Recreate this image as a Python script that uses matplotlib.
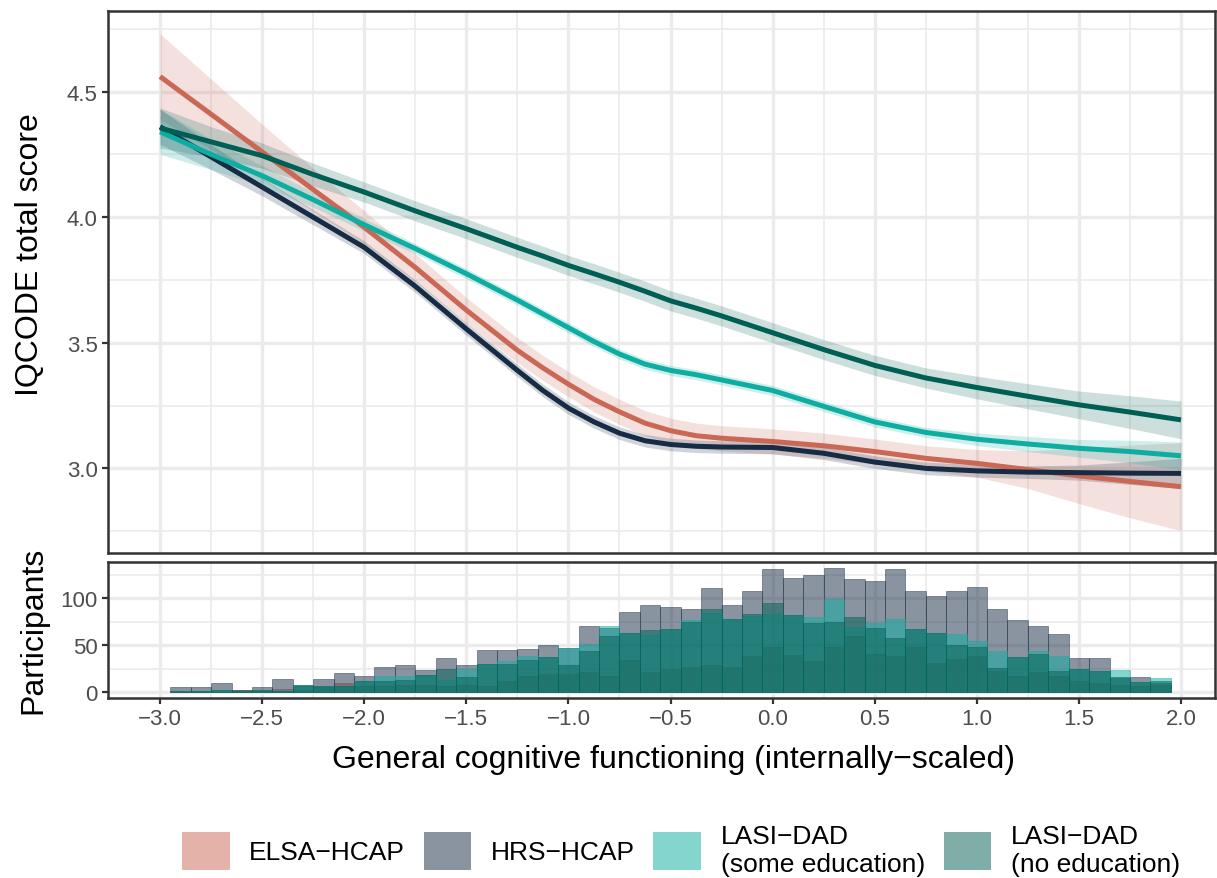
import numpy as np
import matplotlib
matplotlib.use("Agg")
import matplotlib.pyplot as plt
from matplotlib.patches import Patch

plt.rcParams["font.family"] = ["Liberation Sans", "DejaVu Sans"]

# ---- smooth curves ----
gcf_x = [-3.0, -2.75, -2.5, -2.25, -2.0, -1.75, -1.5, -1.25, -1.125, -1.0, -0.875, -0.75,
         -0.625, -0.5, -0.375, -0.25, 0.0, 0.25, 0.5, 0.75, 1.0, 1.25, 1.5, 1.75, 2.0]

elsa_fit = [4.56, 4.41, 4.26, 4.11, 3.96, 3.80, 3.63, 3.47, 3.40, 3.335, 3.275, 3.225,
            3.18, 3.15, 3.13, 3.12, 3.107, 3.09, 3.067, 3.04, 3.02, 2.995, 2.97, 2.948, 2.927]
elsa_se = [0.17, 0.14, 0.11, 0.085, 0.065, 0.055, 0.05, 0.05, 0.05, 0.05, 0.05, 0.05,
           0.05, 0.05, 0.05, 0.05, 0.05, 0.05, 0.05, 0.05, 0.055, 0.075, 0.11, 0.145, 0.175]

hrs_fit = [4.36, 4.24, 4.12, 4.00, 3.88, 3.725, 3.555, 3.39, 3.31, 3.24, 3.185, 3.14,
           3.11, 3.095, 3.088, 3.085, 3.083, 3.06, 3.025, 3.0, 2.99, 2.985, 2.983, 2.981, 2.98]
hrs_se = [0.07, 0.05, 0.035, 0.03, 0.025, 0.025, 0.025, 0.025, 0.025, 0.025, 0.025, 0.025,
          0.025, 0.025, 0.025, 0.025, 0.025, 0.025, 0.025, 0.025, 0.025, 0.025, 0.03, 0.045, 0.06]

some_fit = [4.34, 4.25, 4.165, 4.07, 3.97, 3.875, 3.775, 3.67, 3.615, 3.56, 3.505, 3.455,
            3.415, 3.39, 3.373, 3.352, 3.31, 3.247, 3.185, 3.143, 3.116, 3.097, 3.08, 3.067, 3.05]
some_se = [0.09, 0.06, 0.04, 0.03, 0.025, 0.02, 0.02, 0.02, 0.02, 0.02, 0.02, 0.02,
           0.02, 0.02, 0.02, 0.02, 0.02, 0.02, 0.02, 0.02, 0.025, 0.03, 0.035, 0.045, 0.055]

noed_fit = [4.355, 4.30, 4.245, 4.17, 4.10, 4.025, 3.954, 3.88, 3.845, 3.808, 3.775, 3.741,
            3.705, 3.667, 3.638, 3.607, 3.54, 3.473, 3.41, 3.36, 3.322, 3.287, 3.253, 3.224, 3.193]
noed_se = [0.08, 0.06, 0.05, 0.045, 0.04, 0.04, 0.04, 0.04, 0.04, 0.04, 0.04, 0.04,
           0.04, 0.04, 0.04, 0.04, 0.04, 0.04, 0.04, 0.04, 0.045, 0.05, 0.055, 0.065, 0.075]

# ---- histogram counts, bins of 0.1 centred at -2.9 ... 1.9 ----
bin_mid = [round(-2.9 + 0.1 * i, 1) for i in range(49)]

elsa_n = [0, 0, 0, 2, 1, 3, 2, 5, 10, 6, 6, 8, 8, 6, 7, 6, 12, 17, 19, 19, 21, 17, 34, 21, 25,
          27, 29, 27, 38, 48, 40, 33, 48, 60, 41, 38, 48, 31, 35, 39, 22, 17, 21, 17, 12, 10, 8, 6, 7]
hrs_n = [5, 5, 10, 2, 5, 14, 6, 14, 20, 17, 27, 29, 23, 36, 29, 45, 45, 46, 50, 47, 71, 68, 85, 93, 91,
         89, 111, 93, 108, 131, 122, 125, 133, 121, 119, 131, 108, 103, 108, 112, 89, 77, 71, 62, 36, 36, 15, 16, 10]
some_n = [1, 1, 2, 1, 2, 1, 8, 6, 6, 12, 17, 17, 18, 13, 25, 30, 33, 38, 37, 47, 51, 71, 63, 61, 67,
          77, 84, 78, 81, 83, 82, 80, 99, 69, 74, 78, 67, 63, 62, 55, 44, 37, 44, 38, 25, 22, 24, 11, 15]
noed_n = [1, 1, 2, 1, 2, 1, 8, 6, 6, 12, 12, 13, 18, 25, 16, 30, 30, 34, 37, 29, 44, 60, 63, 66, 67,
          75, 89, 78, 83, 95, 82, 74, 75, 80, 68, 58, 67, 63, 50, 48, 26, 37, 41, 22, 25, 22, 16, 11, 12]

groups = ["ELSA\u2212HCAP", "HRS\u2212HCAP", "LASI\u2212DAD\n(some education)", "LASI\u2212DAD\n(no education)"]
colors = ["#CB6755", "#172B44", "#0DADA1", "#005F55"]
fits = [elsa_fit, hrs_fit, some_fit, noed_fit]
ses = [elsa_se, hrs_se, some_se, noed_se]
counts = [elsa_n, hrs_n, some_n, noed_n]

W, H = 1217, 879
fig = plt.figure(figsize=(W / 100, H / 100), dpi=100)
ax1 = fig.add_axes([108 / W, 1 - 554 / H, 1107 / W, 542 / H])
ax2 = fig.add_axes([108 / W, 1 - 698.6 / H, 1107 / W, 135.6 / H])

x = np.array(gcf_x)
for fit, se, col in zip(fits, ses, colors):
    fit = np.array(fit)
    se = np.array(se)
    ax1.fill_between(x, fit - se, fit + se, color=col, alpha=0.2, lw=0)
    ax1.plot(x, fit, color=col, lw=3.6, solid_capstyle="butt", solid_joinstyle="round")

for n, col in zip(counts, colors):
    ax2.bar(bin_mid, n, width=0.1, color=col, alpha=0.5, edgecolor=col, linewidth=0.6)

xmin, xmax = -3.255, 2.1665
for ax in (ax1, ax2):
    ax.set_xlim(xmin, xmax)
    ax.set_xticks(np.arange(-3, 2.01, 0.5))
    ax.set_xticks(np.arange(-2.75, 2.1, 0.5), minor=True)
    ax.grid(which="major", color="#EBEBEB", lw=2.4)
    ax.grid(which="minor", color="#EBEBEB", lw=1.2)
    ax.set_axisbelow(True)
    for s in ax.spines.values():
        s.set_color("#333333")
        s.set_linewidth(1.8)
    ax.tick_params(which="major", length=4.5, width=1.6, color="#333333",
                   labelcolor="#4D4D4D", labelsize=16, pad=3)
    ax.tick_params(which="minor", length=0)

ax1.set_ylim(2.663, 4.821)
ax1.set_yticks([3.0, 3.5, 4.0, 4.5])
ax1.set_yticks([2.75, 3.25, 3.75, 4.25, 4.75], minor=True)
ax1.set_yticklabels(["3.0", "3.5", "4.0", "4.5"])
ax1.tick_params(axis="x", which="both", length=0, labelbottom=False)

ax2.set_ylim(-6, 139)
ax2.set_yticks([0, 50, 100])
ax2.set_yticks([25, 75, 125], minor=True)
ax2.set_xticklabels(["\u22123.0", "\u22122.5", "\u22122.0", "\u22121.5", "\u22121.0", "\u22120.5",
                     "0.0", "0.5", "1.0", "1.5", "2.0"])

fig.text(30 / W, 1 - 255 / H, "IQCODE total score", rotation=90, ha="center", va="center", fontsize=23)
fig.text(33 / W, 1 - 630 / H, "Participants", rotation=90, ha="center", va="center", fontsize=23)
fig.text(674 / W, 1 - 760 / H, "General cognitive functioning (internally\u2212scaled)",
         ha="center", va="center", fontsize=23)

handles = [Patch(facecolor=c, alpha=0.5, edgecolor="none") for c in colors]
fig.legend(handles, groups, loc="center", bbox_to_anchor=(681 / W, 1 - 851 / H), ncol=4,
           frameon=False, fontsize=19, handlelength=1.8, handleheight=1.85,
           handletextpad=0.75, columnspacing=0.7, borderaxespad=0)

fig.savefig("out.png", dpi=100)
